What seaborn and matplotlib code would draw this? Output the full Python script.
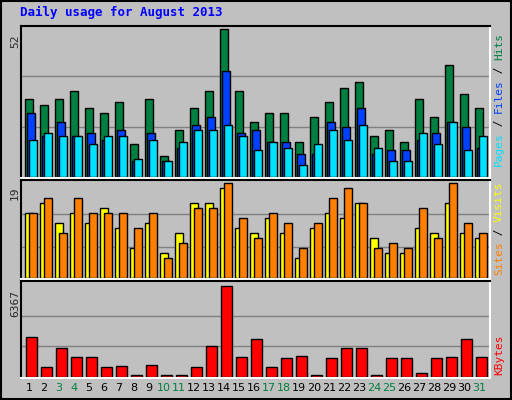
import numpy as np
import matplotlib
matplotlib.use("Agg")
import matplotlib.pyplot as plt
import seaborn as sns

days = np.arange(1, 32)
hits = [27.2, 25.1, 27.2, 30.0, 24.1, 22.3, 26.2, 11.4, 27.2, 7.2, 16.3, 24.1, 30.0, 52, 30.0, 19.1,
        22.3, 22.3, 12.1, 21.2, 26.2, 31.1, 33.2, 14.2, 16.3, 12.1, 27.2, 21.2, 39.2, 29.0, 24.1]
files = [22.3, 14.2, 19.1, 14.2, 15.3, 13.1, 16.3, 5.4, 15.3, 5.4, 10.3, 18.1, 21.2, 37.1, 15.3, 16.3,
         12.1, 12.1, 8.2, 8.2, 19.1, 17.4, 24.1, 8.2, 9.3, 9.3, 13.1, 15.3, 19.1, 17.4, 10.3]
pages = [13.1, 15.3, 14.2, 14.2, 11.4, 14.2, 14.2, 6.1, 13.1, 5.4, 12.1, 16.3, 16.3, 18.1, 14.2, 9.3,
         12.1, 10.3, 4.3, 11.4, 16.3, 13.1, 18.1, 10.3, 5.4, 5.4, 15.3, 11.4, 19.1, 9.3, 14.2]
visits = [13, 16, 9, 16, 13, 13, 13, 10, 13, 4, 7, 14, 14, 19, 12, 8,
          13, 11, 6, 11, 16, 18, 15, 6, 7, 6, 14, 8, 19, 11, 9]
sites = [13, 15, 11, 13, 11, 14, 10, 6, 11, 5, 9, 15, 15, 18, 10, 9,
         12, 9, 4, 10, 13, 12, 15, 8, 5, 5, 10, 9, 15, 9, 8]
kbytes = [2801, 718, 2037, 1412, 1412, 718, 787, 150, 857, 150, 150, 718, 2176, 6367, 1412, 2663,
          718, 1343, 1482, 150, 1343, 2037, 2037, 150, 1343, 1343, 250, 1343, 1412, 2663, 1412]
weekend = {3, 4, 10, 11, 17, 18, 24, 25, 31}

sns.set_style("white")
plt.rcParams["font.family"] = ["DejaVu Sans Mono", "DejaVu Sans"]

bg = "#C0C0C0"
fig = plt.figure(figsize=(5.12, 4.0), dpi=100, facecolor=bg)
W, H = 512, 400

def panel(top, bottom):
    ax = fig.add_axes([21 / W, 1 - bottom / H, 469 / W, (bottom - top) / H])
    ax.set_facecolor(bg)
    ax.set_xlim(0.73, 32.0)
    ax.set_xticks([])
    ax.set_yticks([])
    for s in ["left", "top"]:
        ax.spines[s].set_color("black")
    for s in ["right", "bottom"]:
        ax.spines[s].set_color("white")
    for sp in ax.spines.values():
        sp.set_linewidth(1.5)
    return ax

kw = dict(align="edge", edgecolor="black", linewidth=1)

ax1 = panel(26, 178)
ax1.set_ylim(-0.4, 53)
for g in [17.6, 35.5]:
    ax1.axhline(g, color="#808080", lw=1, zorder=0)
ax1.bar(days, hits, width=0.5, color="#008040", **kw)
ax1.bar(days + 0.15, files, width=0.5, color="#0040FF", **kw)
ax1.bar(days + 0.27, pages, width=0.5, color="#00E0FF", **kw)

ax2 = panel(180, 279)
ax2.set_ylim(-0.2, 19.6)
for g in [6.3, 12.7]:
    ax2.axhline(g, color="#808080", lw=1, zorder=0)
ax2.bar(days, sites, width=0.5, color="#FFFF00", **kw)
ax2.bar(days + 0.27, visits, width=0.5, color="#FF8000", **kw)

ax3 = panel(281, 378)
ax3.set_ylim(-80, 6700)
for g in [2122, 4245]:
    ax3.axhline(g, color="#808080", lw=1, zorder=0)
ax3.bar(days + 0.07, kbytes, width=0.7, color="#FF0000", **kw)

fig.text(20 / W, 1 - 12 / H, "Daily usage for August 2013", color="#0000FF",
         fontsize=9, fontweight="bold", va="center", ha="left")
for txt, y in [("52", 34), ("19", 187), ("6367", 290)]:
    fig.text(15 / W, 1 - y / H, txt, rotation=90, fontsize=8, va="top", ha="center")

for d in days:
    x = 21 + (d + 0.27 - 0.73) * 15
    fig.text(x / W, 1 - 388 / H, str(d), fontsize=8, ha="center", va="center",
             family="DejaVu Sans", color="#008040" if d in weekend else "black")

def side(parts, ycenter):
    y = 1 - ycenter / H
    n = sum(len(p[0]) for p in parts)
    step = 6.6 / H
    pos = y - n * step / 2
    for t, c in parts:
        fig.text(499 / W, pos, t, rotation=90, color=c, fontsize=8, ha="center", va="bottom")
        pos += len(t) * step

side([("Pages", "#00E0FF"), (" / ", "black"), ("Files", "#0040FF"), (" / ", "black"), ("Hits", "#008040")], 100)
side([("Sites", "#FF8000"), (" / ", "black"), ("Visits", "#FFFF00")], 229)
side([("KBytes", "#FF0000")], 355)

fig.patches.append(plt.Rectangle((0.002, 0.002), 0.996, 0.996, transform=fig.transFigure,
                                 fill=False, edgecolor="black", lw=1.5))
fig.savefig("out.png", dpi=100, facecolor=bg)
